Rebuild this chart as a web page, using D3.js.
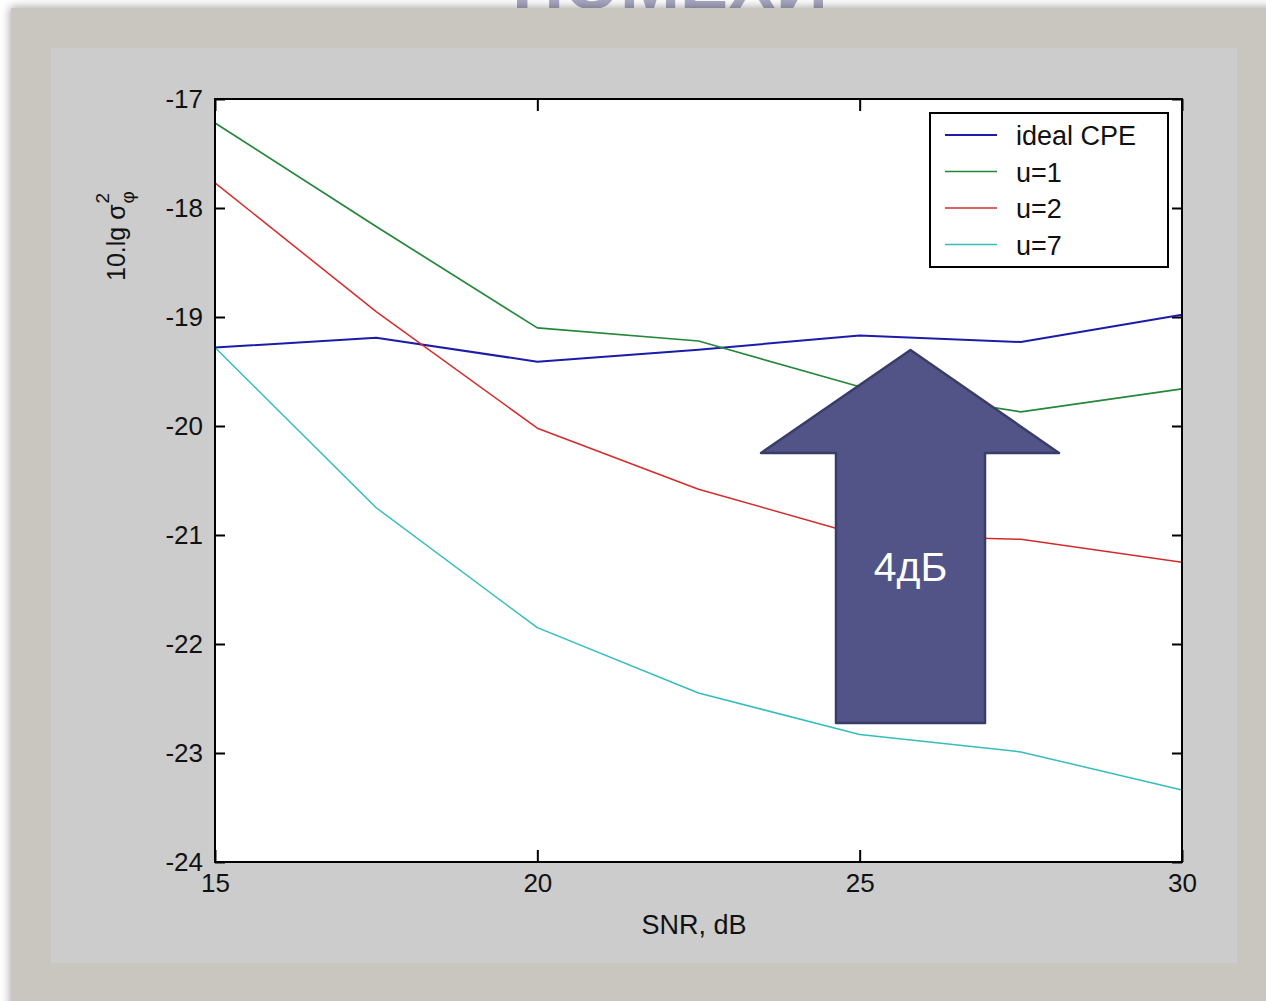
<!DOCTYPE html>
<html><head><meta charset="utf-8">
<script src="https://cdn.jsdelivr.net/npm/d3@7"></script>
<style>
html,body{margin:0;padding:0;background:#fff;}
svg{display:block;}
text{font-family:"Liberation Sans",Arial,sans-serif;}
</style></head>
<body>
<svg id="chart" width="1266" height="1001"></svg>
<script>
// ---- data ----
const snr = [15, 17.5, 20, 22.5, 25, 27.5, 30];
const idealCPE = [-19.28, -19.19, -19.41, -19.30, -19.17, -19.23, -18.98];
const u1 = [-17.22, -18.17, -19.10, -19.22, -19.64, -19.87, -19.66];
const u2 = [-17.77, -18.95, -20.02, -20.58, -21.00, -21.04, -21.25];
const u7 = [-19.28, -20.75, -21.85, -22.45, -22.83, -22.99, -23.34];
const seriesNames = ["ideal CPE", "u=1", "u=2", "u=7"];
const xTicks = [15, 20, 25, 30];
const yTicks = [-24, -23, -22, -21, -20, -19, -18, -17];
const titleText = "ПОМЕХИ";
const xLabel = "SNR, dB";
const arrowLabel = "4дБ";

(function(){
const seriesValues = [idealCPE, u1, u2, u7];
const colors = ["#1c1ca8", "#25873a", "#d42c2c", "#35bdbd"];
const widths = [2, 1.7, 1.5, 1.5];

const svg = d3.select("#chart");
const defs = svg.append("defs");
const f = defs.append("filter").attr("id","shadow").attr("x","-5%").attr("y","-5%").attr("width","110%").attr("height","110%");
f.append("feDropShadow").attr("dx",-1).attr("dy",-1).attr("stdDeviation",5).attr("flood-color","#000").attr("flood-opacity",0.35);

// title (partially hidden behind the frame, as in the reference)
svg.append("text").attr("x", 670).attr("y", 9).attr("text-anchor","middle")
  .attr("font-size", 72).attr("font-weight","bold").attr("fill","#a8a9c2").text(titleText);

// frame
svg.append("rect").attr("x", 11).attr("y", 8).attr("width", 1300).attr("height", 1050)
  .attr("fill", "#c9c6bf").attr("filter","url(#shadow)");
svg.append("rect").attr("x", 51).attr("y", 48).attr("width", 1186).attr("height", 915)
  .attr("fill", "#cccccc");

// plot
const pL = 215, pR = 1182, pT = 99, pB = 862;
const x = d3.scaleLinear().domain([15, 30]).range([pL, pR]);
const y = d3.scaleLinear().domain([-24, -17]).range([pB, pT]);

svg.append("rect").attr("x", pL).attr("y", pT).attr("width", pR-pL).attr("height", pB-pT)
  .attr("fill", "#ffffff");

const fmt = d => String(d);
const axL = svg.append("g").attr("transform", `translate(${pL},0)`)
  .call(d3.axisLeft(y).tickValues(yTicks).tickFormat(fmt).tickSizeInner(-10).tickSizeOuter(0).tickPadding(12));
const axB = svg.append("g").attr("transform", `translate(0,${pB})`)
  .call(d3.axisBottom(x).tickValues(xTicks).tickFormat(fmt).tickSizeInner(-12).tickSizeOuter(0).tickPadding(12));
const axR = svg.append("g").attr("transform", `translate(${pR},0)`)
  .call(d3.axisRight(y).tickValues(yTicks).tickFormat("").tickSizeInner(-10).tickSizeOuter(0));
const axT = svg.append("g").attr("transform", `translate(0,${pT})`)
  .call(d3.axisTop(x).tickValues(xTicks).tickFormat("").tickSizeInner(-12).tickSizeOuter(0));
[axL, axB, axR, axT].forEach(a => {
  a.select(".domain").remove();
  a.selectAll(".tick line").attr("stroke", "#000").attr("stroke-width", 2);
  a.selectAll("text").attr("font-size", 26).attr("fill", "#111").attr("font-family", "Liberation Sans, Arial, sans-serif");
});
axB.selectAll("text").attr("dy", "0.71em");

// lines
const line = d3.line().x((d, i) => x(snr[i])).y(d => y(d));
seriesValues.forEach((vals, k) => {
  svg.append("path").datum(vals).attr("d", line).attr("fill", "none")
    .attr("stroke", colors[k]).attr("stroke-width", widths[k]).attr("stroke-linejoin", "round");
});

// box
svg.append("rect").attr("x", pL).attr("y", pT).attr("width", pR-pL).attr("height", pB-pT)
  .attr("fill", "none").attr("stroke", "#000").attr("stroke-width", 2);

// legend
const lg = svg.append("g");
lg.append("rect").attr("x", 930).attr("y", 113).attr("width", 238).attr("height", 154)
  .attr("fill", "#fff").attr("stroke", "#000").attr("stroke-width", 2);
seriesNames.forEach((nm, k) => {
  const ly = 135 + k * 36.5;
  lg.append("line").attr("x1", 945).attr("x2", 997).attr("y1", ly).attr("y2", ly)
    .attr("stroke", colors[k]).attr("stroke-width", widths[k]);
  lg.append("text").attr("x", 1016).attr("y", ly + 10).attr("font-size", 27).attr("fill", "#111").text(nm);
});

// x label
svg.append("text").attr("x", 694).attr("y", 934).attr("text-anchor", "middle")
  .attr("font-size", 27).attr("fill", "#111").text(xLabel);

// y label: 10.lg σ^2_φ
const yl = svg.append("g").attr("transform", "translate(125,281) rotate(-90)");
const mainT = yl.append("text").attr("x", 0).attr("y", 0).attr("font-size", 25).attr("fill", "#111").text("10.lg σ");
const L = mainT.node().getComputedTextLength();
yl.append("text").attr("x", L + 1).attr("y", -16).attr("font-size", 19).attr("fill", "#111").text("2");
yl.append("text").attr("x", L + 1).attr("y", 9).attr("font-size", 19).attr("fill", "#111").text("φ");

// arrow annotation (4 dB)
const ax0 = 836, ax1 = 985, axc = (ax0 + ax1) / 2;
const tipY = 350, wingY = 453, baseY = 723;
const arrowPts = [[axc, tipY], [1059, wingY], [ax1, wingY], [ax1, baseY], [ax0, baseY], [ax0, wingY], [761, wingY]];
svg.append("polygon").attr("points", arrowPts.map(p => p.join(",")).join(" "))
  .attr("fill", "#525488").attr("stroke", "#3a3c68").attr("stroke-width", 2.5).attr("stroke-linejoin", "round");
svg.append("text").attr("x", axc).attr("y", 581).attr("text-anchor", "middle")
  .attr("font-family", "Open Sans, sans-serif").attr("font-size", 41).attr("fill", "#ffffff").text(arrowLabel);
})();
</script>
</body></html>
